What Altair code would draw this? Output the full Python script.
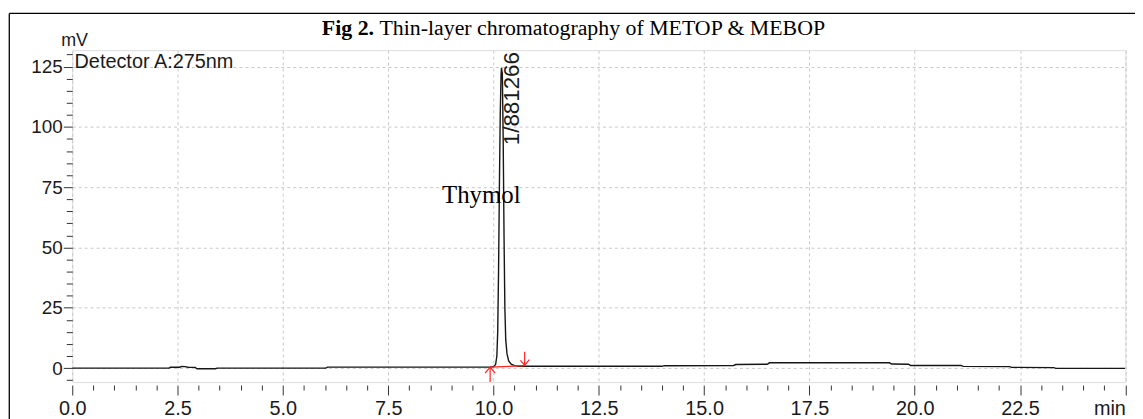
import altair as alt
import pandas as pd

# ---- data ----
time_min = [0.0, 2.30, 2.33, 2.55, 2.60, 2.68, 2.75, 2.92, 2.96, 3.40, 3.44, 6.02, 6.06,
            9.90, 10.00, 10.05, 10.08, 10.10, 10.12, 10.14, 10.16, 10.18, 10.19, 10.21,
            10.23, 10.25, 10.27, 10.29, 10.32, 10.36, 10.42, 10.50, 10.60, 14.00, 14.05,
            15.70, 15.75, 16.50, 16.55, 19.40, 19.45, 19.85, 19.90, 21.10, 21.15, 22.25,
            22.30, 23.30, 23.35, 25.0]
signal_mv = [0.0, 0.0, 0.35, 0.35, 0.7, 0.6, 0.35, 0.3, -0.25, -0.25, 0.0, 0.0, 0.4,
             0.4, 0.6, 1.5, 5, 15, 40, 75, 105, 122, 124.5, 122,
             95, 55, 25, 12, 6, 3, 1.6, 1.0, 0.75, 0.75, 1.0,
             1.1, 1.5, 1.6, 2.2, 2.2, 1.7, 1.6, 1.1, 1.1, 0.7, 0.6,
             0.3, 0.2, -0.1, -0.1]

# red integration markers (start/end arrows and baseline)
mark_x = [9.92, 9.92, 9.92, 9.92, 10.74, 10.74, 10.74]
mark_y = [-5.8, 0.4, 0.4, 0.4, 6.8, 1.1, 1.1]
mark_x2 = [9.92, 9.80, 10.04, 10.74, 10.74, 10.64, 10.85]
mark_y2 = [0.4, -2.1, -2.1, 1.0, 1.1, 3.2, 3.5]

x_ticks = [i * 0.5 for i in range(51)]
y_ticks = [-5 + 5 * i for i in range(28)]
x_domain = [0, 25]
y_domain = [-5.8, 131.8]

peak_label = "1/881266"
peak_label_pos = [10.45, 92.4]
compound = "Thymol"
compound_pos = [9.71, 68.4]
title_bold = "Fig 2."
title_rest = "Thin-layer chromatography of METOP & MEBOP"
detector = "Detector A:275nm"
y_unit = "mV"

SANS = "Liberation Sans, Arial, sans-serif"
SERIF = "Liberation Serif, Times New Roman, serif"

W = 1060.6
H = 334.3

trace = pd.DataFrame({"t": time_min, "mv": signal_mv})
marks = pd.DataFrame({"x": mark_x, "y": mark_y, "x2": mark_x2, "y2": mark_y2})

xscale = alt.Scale(domain=x_domain, nice=False, zero=False)
yscale = alt.Scale(domain=y_domain, nice=False, zero=False)

major_y = "datum.value % 25 === 0"
major_x = "datum.value % 2.5 === 0"

xaxis = alt.Axis(
    values=x_ticks, tickCount=500, title=None, domain=False, offset=3,
    labelExpr="datum.value === 25 ? 'min' : (datum.value % 2.5 === 0 ? format(datum.value, '.1f') : '')",
    labelAlign={"condition": {"test": "datum.value === 25", "value": "right"}, "value": "center"},
    labelFlush=False, labelOverlap=False, labelFont=SANS, labelFontSize=20, labelColor="#1a1a1a",
    labelPadding=4,
    tickSize={"condition": {"test": major_x, "value": 10}, "value": 5},
    tickColor="#333333", tickWidth=1,
    grid=True, gridDash=[3, 3], gridColor="#c8c8c8", gridWidth=1,
    gridOpacity={"condition": {"test": major_x, "value": 1}, "value": 0},
)
yaxis = alt.Axis(
    values=y_ticks, tickCount=500, title=None, domain=False,
    labelExpr="datum.value % 25 === 0 ? format(datum.value, 'd') : ''",
    labelFlush=False, labelOverlap=False, labelFont=SANS, labelFontSize=19, labelColor="#1a1a1a",
    labelPadding=1,
    tickSize={"condition": {"test": major_y, "value": 9}, "value": 6},
    tickColor="#333333", tickWidth=1,
    grid=True, gridDash=[3, 3], gridColor="#c8c8c8", gridWidth=1,
    gridOpacity={"condition": {"test": major_y, "value": 1}, "value": 0},
)

line = alt.Chart(trace).mark_line(color="#161616", strokeWidth=1.4, clip=True).encode(
    x=alt.X("t:Q", scale=xscale, axis=xaxis),
    y=alt.Y("mv:Q", scale=yscale, axis=yaxis),
)

red = alt.Chart(marks).mark_rule(color="#ff2020", strokeWidth=1.2, clip=True).encode(
    x="x:Q", y="y:Q", x2="x2:Q", y2="y2:Q"
)

lbl = alt.Chart(pd.DataFrame({"x": [peak_label_pos[0]], "y": [peak_label_pos[1]], "s": [peak_label]})).mark_text(
    angle=270, align="left", baseline="middle", font=SANS, fontSize=22.5, color="#1a1a1a"
).encode(x="x:Q", y="y:Q", text="s:N")

cmp = alt.Chart(pd.DataFrame({"x": [compound_pos[0]], "y": [compound_pos[1]], "s": [compound]})).mark_text(
    align="center", baseline="alphabetic", font=SERIF, fontSize=25, color="#000000"
).encode(x="x:Q", y="y:Q", text="s:N")

one = pd.DataFrame({"k": [0]})

det = alt.Chart(one).mark_text(
    align="left", baseline="alphabetic", font=SANS, fontSize=20, color="#1a1a1a"
).encode(x=alt.value(2.3), y=alt.value(17.5), text=alt.value(detector))

unit = alt.Chart(one).mark_text(
    align="center", baseline="alphabetic", font=SANS, fontSize=18, color="#1a1a1a"
).encode(x=alt.value(2.3), y=alt.value(-4), text=alt.value(y_unit))

# figure caption (kept fully visible just below the outer frame line)
t1 = alt.Chart(one).mark_text(
    align="right", baseline="alphabetic", font=SERIF, fontSize=22, fontWeight="bold", color="#000000"
).encode(x=alt.value(303.9), y=alt.value(-15), text=alt.value(title_bold))

t2 = alt.Chart(one).mark_text(
    align="left", baseline="alphabetic", font=SERIF, fontSize=22, color="#000000"
).encode(x=alt.value(309.4), y=alt.value(-15), text=alt.value(title_rest))

frame_top = alt.Chart(one).mark_rule(color="#000000", strokeWidth=1.3).encode(
    x=alt.value(-63.4), x2=alt.value(1100), y=alt.value(-37)
)
frame_left = alt.Chart(one).mark_rule(color="#000000", strokeWidth=1.3).encode(
    x=alt.value(-63.4), y=alt.value(-37), y2=alt.value(400)
)

chart = alt.layer(line, red, lbl, cmp, det, unit, t1, t2, frame_top, frame_left).properties(
    width=W, height=H,
    autosize=alt.AutoSizeParams(type="none"),
    padding={"left": 64.7, "top": 41, "right": 9.7, "bottom": 35.7},
).configure_view(stroke="#3a3a3a", strokeWidth=1.3).configure(background="white")

chart.save("out.html", embed_options={"renderer": "svg", "actions": False})
